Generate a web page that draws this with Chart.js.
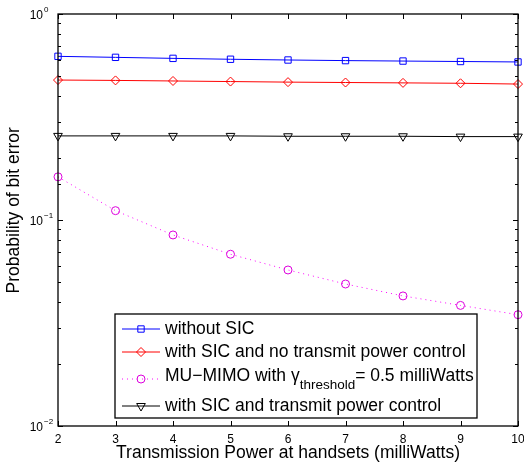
<!DOCTYPE html>
<html>
<head>
<meta charset="utf-8">
<script src="https://cdn.jsdelivr.net/npm/chart.js@4/dist/chart.umd.min.js"></script>
<style>
  body { margin: 0; background: #fff; }
  canvas { display: block; }
</style>
</head>
<body>
<canvas id="myChart" width="524" height="465"></canvas>
<script>
const powers = [2, 3, 4, 5, 6, 7, 8, 9, 10];
const withoutSic = [0.623, 0.616, 0.609, 0.603, 0.598, 0.594, 0.591, 0.588, 0.585];
const sicNoPowerCtrl = [0.478, 0.476, 0.473, 0.470, 0.467, 0.465, 0.463, 0.461, 0.457];
const muMimo = [0.162, 0.111, 0.0846, 0.0682, 0.0572, 0.0489, 0.0428, 0.0385, 0.0347];
const sicPowerCtrl = [0.256, 0.256, 0.256, 0.256, 0.255, 0.255, 0.255, 0.254, 0.254];
const yTicks = [1, 0.1, 0.01];

const FONT = '"Liberation Sans", Arial, Helvetica, sans-serif';
Chart.defaults.font.family = FONT;
Chart.defaults.color = '#000';

function pts(arr) {
  return powers.map((p, i) => ({ x: p, y: arr[i] }));
}

// MATLAB style box, inward ticks, 10^n labels and the legend inside the axes
const matlabLook = {
  id: 'matlabLook',
  afterDraw(chart) {
    const { ctx, chartArea: a, scales: { x, y } } = chart;
    ctx.save();
    ctx.strokeStyle = '#000';
    ctx.lineWidth = 1.3;
    ctx.strokeRect(a.left, a.top, a.right - a.left, a.bottom - a.top);

    ctx.lineWidth = 1;
    ctx.beginPath();
    x.ticks.forEach(t => {
      const px = Math.round(x.getPixelForValue(t.value)) + 0.5;
      ctx.moveTo(px, a.bottom); ctx.lineTo(px, a.bottom - 5);
      ctx.moveTo(px, a.top); ctx.lineTo(px, a.top + 5);
    });
    y.ticks.forEach(t => {
      const lg = Math.log10(t.value);
      const len = Math.abs(lg - Math.round(lg)) < 1e-6 ? 5 : 3;
      const py = Math.round(y.getPixelForValue(t.value)) + 0.5;
      ctx.moveTo(a.left, py); ctx.lineTo(a.left + len, py);
      ctx.moveTo(a.right, py); ctx.lineTo(a.right - len, py);
    });
    ctx.stroke();

    // y tick labels 10^n
    ctx.fillStyle = '#000';
    ctx.textBaseline = 'middle';
    yTicks.forEach(v => {
      const py = y.getPixelForValue(v);
      const e = Math.round(Math.log10(v));
      ctx.font = '12px ' + FONT;
      ctx.textAlign = 'right';
      ctx.fillText('10', a.left - 15, py + 2);
      ctx.font = '8px ' + FONT;
      ctx.textAlign = 'left';
      ctx.fillText(e < 0 ? '\u2212' + (-e) : String(e), a.left - 14, py - 4);
    });

    // legend
    const bx = a.left + 57, by = a.bottom - 112, bw = 362, bh = 104;
    ctx.fillStyle = '#fff';
    ctx.fillRect(bx, by, bw, bh);
    ctx.lineWidth = 1.3;
    ctx.strokeRect(bx, by, bw, bh);
    const rows = [15, 38, 65, 92];
    chart.data.datasets.forEach((ds, r) => {
      const ry = by + rows[r];
      ctx.save();
      ctx.strokeStyle = ds.borderColor;
      ctx.lineWidth = ds.borderWidth;
      ctx.setLineDash(ds.borderDash || []);
      ctx.beginPath();
      ctx.moveTo(bx + 7, ry); ctx.lineTo(bx + 45, ry);
      ctx.stroke();
      ctx.setLineDash([]);
      ctx.strokeStyle = ds.pointBorderColor;
      ctx.fillStyle = 'rgba(0,0,0,0)';
      ctx.lineWidth = 1;
      Chart.helpers.drawPoint(ctx, {
        pointStyle: ds.pointStyle, radius: ds.pointRadius,
        rotation: ds.pointRotation || 0, borderWidth: 1
      }, bx + 26, ry);
      ctx.restore();

      ctx.fillStyle = '#000';
      ctx.textAlign = 'left';
      ctx.textBaseline = 'middle';
      ctx.font = '17.5px ' + FONT;
      const tx = bx + 50;
      if (ds.labelParts) {
        const [pre, sub, post] = ds.labelParts;
        ctx.fillText(pre, tx, ry - 3);
        let w = ctx.measureText(pre).width;
        ctx.font = '13.5px ' + FONT;
        ctx.fillText(sub, tx + w, ry + 6);
        w += ctx.measureText(sub).width;
        ctx.font = '17.5px ' + FONT;
        ctx.fillText(post, tx + w, ry - 3);
      } else {
        ctx.fillText(ds.label, tx, ry);
      }
    });
    ctx.restore();
  }
};

const ctx = document.getElementById('myChart');

new Chart(ctx, {
  type: 'line',
  data: {
    datasets: [
      {
        label: 'without SIC',
        data: pts(withoutSic),
        borderColor: '#0000ff', borderWidth: 1,
        pointStyle: 'rect', pointRadius: 4.5,
        pointBorderColor: '#0000ff', pointBackgroundColor: 'rgba(0,0,0,0)'
      },
      {
        label: 'with SIC and no transmit power control',
        data: pts(sicNoPowerCtrl),
        borderColor: '#ff0000', borderWidth: 1,
        pointStyle: 'rectRot', pointRadius: 4.5,
        pointBorderColor: '#ff0000', pointBackgroundColor: 'rgba(0,0,0,0)'
      },
      {
        label: 'MU\u2212MIMO with \u03b3threshold= 0.5 milliWatts',
        labelParts: ['MU\u2212MIMO with \u03b3', 'threshold', '= 0.5 milliWatts'],
        data: pts(muMimo),
        borderColor: '#ff00ff', borderWidth: 1, borderDash: [1, 4],
        pointStyle: 'circle', pointRadius: 4,
        pointBorderColor: '#dd00dd', pointBackgroundColor: 'rgba(0,0,0,0)'
      },
      {
        label: 'with SIC and transmit power control',
        data: pts(sicPowerCtrl),
        borderColor: '#000000', borderWidth: 1,
        pointStyle: 'triangle', pointRotation: 180, pointRadius: 5,
        pointBorderColor: '#000000', pointBackgroundColor: 'rgba(0,0,0,0)'
      }
    ]
  },
  options: {
    responsive: false,
    animation: false,
    clip: false,
    layout: { padding: { top: 14, right: 4, left: 0, bottom: 0 } },
    plugins: { legend: { display: false }, tooltip: { enabled: false } },
    elements: { line: { tension: 0 } },
    scales: {
      x: {
        type: 'linear', min: 2, max: 10,
        grid: { display: false, drawTicks: false },
        border: { display: false },
        ticks: { stepSize: 1, padding: 6, font: { size: 12 }, maxRotation: 0 },
        title: {
          display: true, text: 'Transmission Power at handsets (milliWatts)',
          font: { size: 17.5 }, padding: { top: 0, bottom: 1 }
        },
        afterFit: s => { s.height = 39; s.paddingLeft = 0; s.paddingRight = 0; }
      },
      y: {
        type: 'logarithmic', min: 0.01, max: 1,
        grid: { display: false, drawTicks: false },
        border: { display: false },
        ticks: { display: false },
        title: {
          display: true, text: '    Probability of bit error',
          font: { size: 17.5 }, padding: { top: 4, bottom: 0 }
        },
        afterFit: s => { s.width = 58; }
      }
    }
  },
  plugins: [matlabLook]
});
</script>
</body>
</html>
